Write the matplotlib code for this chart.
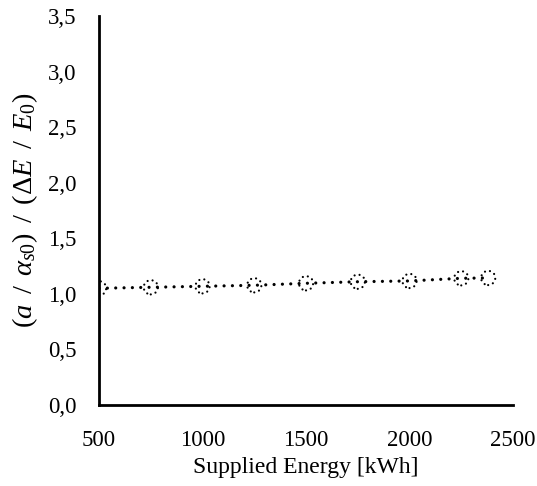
import matplotlib
matplotlib.use("Agg")
import matplotlib.pyplot as plt
from matplotlib.ticker import FuncFormatter, MultipleLocator

plt.rcParams['font.family'] = ['Liberation Serif', 'DejaVu Serif']
plt.rcParams['mathtext.fontset'] = 'custom'
plt.rcParams['mathtext.rm'] = 'Liberation Serif'
plt.rcParams['mathtext.it'] = 'Liberation Serif:italic'
plt.rcParams['mathtext.bf'] = 'Liberation Serif:bold'

energy = [500, 750, 1000, 1250, 1500, 1750, 2000, 2250, 2380]
ratio = [1.050, 1.059, 1.068, 1.077, 1.095, 1.109, 1.116, 1.140, 1.143]

fig = plt.figure(figsize=(5.37, 4.86), dpi=100)
ax = fig.add_axes([0.1844, 0.1667, 0.7709, 0.8004])

ax.plot(energy, ratio, color='black', linestyle=(0, (0.01, 2.6)), linewidth=2.3,
        dash_capstyle='round', zorder=3)
sc = ax.scatter(energy, ratio, s=105, facecolors='none', edgecolors='black',
                linewidths=1.6, linestyle=(0, (0.01, 2.3)), zorder=4)
sc.set_capstyle('round')

ax.set_xlim(500, 2500)
ax.set_ylim(0, 3.5)
ax.xaxis.set_major_locator(MultipleLocator(500))
ax.yaxis.set_major_locator(MultipleLocator(0.5))
ax.yaxis.set_major_formatter(FuncFormatter(lambda v, p: f"{v:.1f}".replace('.', ',')))

for s in ['top', 'right']:
    ax.spines[s].set_visible(False)
for s in ['left', 'bottom']:
    ax.spines[s].set_linewidth(2)
ax.tick_params(axis='both', length=0, labelsize=16.5)
ax.tick_params(axis='y', pad=16)
ax.tick_params(axis='x', pad=18)

ax.set_xlabel('Supplied Energy [kWh]', fontsize=17, labelpad=4)
ax.set_ylabel(r'$(a\ \,/\ \,\alpha_{s0})\ \,/\ \,(\Delta E\ \,/\ \,E_{\mathrm{0}})$',
              fontsize=20.5, labelpad=6)

fig.savefig('out.png', dpi=100)
